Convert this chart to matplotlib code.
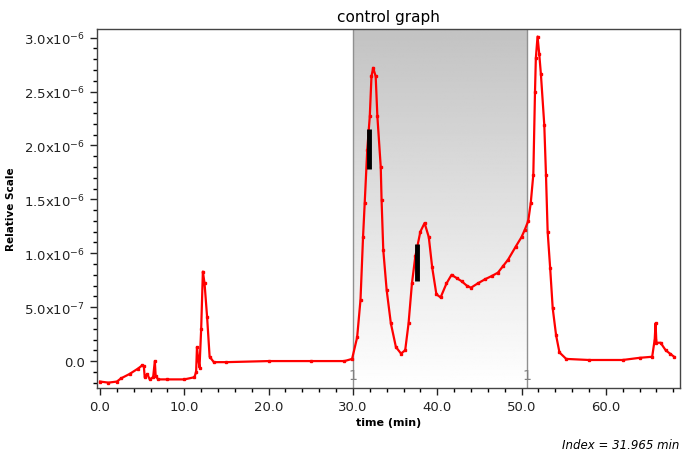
import matplotlib
matplotlib.use('Agg')

import numpy as np
import matplotlib.pyplot as plt
from matplotlib.ticker import MultipleLocator

# time (min) and signal (x1e-6)
time_min = [0.0, 1.0, 2.0, 2.5, 3.5, 4.5, 5.0, 5.2, 5.3, 5.6, 5.9, 6.3, 6.5, 6.6, 6.9,
            8.0, 10.0, 11.2, 11.4, 11.5, 11.6, 11.8, 12.0, 12.2, 12.4, 12.7, 13.0, 13.5,
            15.0, 20.0, 25.0, 29.0, 29.9, 30.5, 30.9, 31.2, 31.4, 31.7, 32.0, 32.2, 32.4,
            32.7, 32.9, 33.3, 33.4, 33.6, 34.0, 34.5, 35.1, 35.7, 36.2, 36.6, 37.0, 37.4,
            38.0, 38.5, 39.0, 39.4, 39.9, 40.4, 41.1, 41.7, 42.3, 42.9, 43.5, 44.0, 44.8,
            45.7, 46.5, 47.2, 47.8, 48.4, 49.3, 50.0, 50.4, 50.8, 51.1, 51.4, 51.6, 51.7,
            51.9, 52.1, 52.3, 52.7, 52.9, 53.1, 53.4, 53.7, 54.1, 54.5, 55.3, 58.0, 62.0,
            64.0, 65.5, 65.8, 65.9, 66.0, 66.5, 67.1, 67.6, 68.1]
signal = [-0.19, -0.20, -0.19, -0.16, -0.12, -0.07, -0.04, -0.05, -0.15, -0.12, -0.17, -0.15, 0.00, -0.14, -0.17,
          -0.17, -0.17, -0.15, -0.10, 0.13, 0.05, -0.06, 0.30, 0.83, 0.72, 0.41, 0.04, -0.01,
          -0.01, 0.0, 0.0, 0.0, 0.02, 0.22, 0.57, 1.15, 1.47, 1.96, 2.27, 2.64, 2.72,
          2.64, 2.27, 1.80, 1.49, 1.03, 0.66, 0.35, 0.13, 0.07, 0.10, 0.35, 0.72, 0.97,
          1.20, 1.28, 1.15, 0.87, 0.62, 0.59, 0.72, 0.80, 0.77, 0.74, 0.70, 0.68, 0.72,
          0.76, 0.79, 0.82, 0.88, 0.94, 1.06, 1.15, 1.22, 1.30, 1.47, 1.73, 2.50, 2.81,
          3.01, 2.85, 2.66, 2.19, 1.73, 1.20, 0.86, 0.49, 0.24, 0.08, 0.02, 0.01, 0.01,
          0.03, 0.04, 0.20, 0.35, 0.17, 0.17, 0.10, 0.07, 0.04]

# integration window and marker bars
window = [30.0, 50.65]
bar_times = [31.9, 37.6]
bar_low = [1.78, 0.74]
bar_high = [2.15, 1.09]

ytick_vals = [0.0, 0.5, 1.0, 1.5, 2.0, 2.5, 3.0]
ytick_text = ['0.0', '5.0x10$^{-7}$', '1.0x10$^{-6}$', '1.5x10$^{-6}$',
              '2.0x10$^{-6}$', '2.5x10$^{-6}$', '3.0x10$^{-6}$']
xtick_vals = [0, 10, 20, 30, 40, 50, 60]

x_lo, x_hi = -0.36, 68.8
y_lo, y_hi = -0.25, 3.08

fig = plt.figure(figsize=(6.85, 4.6), dpi=100)
ax = fig.add_axes([0.1416, 0.1543, 0.8511, 0.7805])

# gray gradient for the window, darker at the top
grad = np.linspace(0, 1, 256).reshape(-1, 1)
ax.imshow(grad, extent=[window[0], window[1], y_lo, y_hi], origin='upper',
          cmap='gray', vmin=-3.2, vmax=1.0, aspect='auto', zorder=0)
for w in window:
    ax.axvline(w, color='#909090', lw=1, zorder=1)
    ax.text(w, -0.06, '1', color='#808080', ha='center', va='top', fontsize=10)

ax.plot(time_min, signal, color='red', lw=1.6, marker='s', ms=1.8, zorder=3)

for t, lo, hi in zip(bar_times, bar_low, bar_high):
    ax.plot([t, t], [lo, hi], color='black', lw=3.5, solid_capstyle='butt', zorder=4)

ax.set_xlim(x_lo, x_hi)
ax.set_ylim(y_lo, y_hi)
ax.set_yticks(ytick_vals)
ax.set_yticklabels(ytick_text)
ax.yaxis.set_minor_locator(MultipleLocator(0.1))
ax.set_xticks(xtick_vals)
ax.set_xticklabels([f'{v:.1f}' for v in xtick_vals])
ax.xaxis.set_minor_locator(MultipleLocator(2))
ax.tick_params(axis='both', which='major', length=5, width=1, labelsize=9.5, colors='#222222')
ax.tick_params(axis='both', which='minor', length=3, width=1)
for s in ax.spines.values():
    s.set_color('#444444')
    s.set_linewidth(1)

ax.set_title('control graph', fontsize=11, pad=6)
ax.set_xlabel('time (min)', fontsize=8, fontweight='bold', labelpad=3)
ax.set_ylabel('Relative Scale', fontsize=7.5, fontweight='bold', labelpad=6)
fig.text(0.992, 0.018, 'Index = 31.965 min', ha='right', va='bottom',
         fontsize=8.5, style='italic')

fig.savefig('out.png', dpi=100)
